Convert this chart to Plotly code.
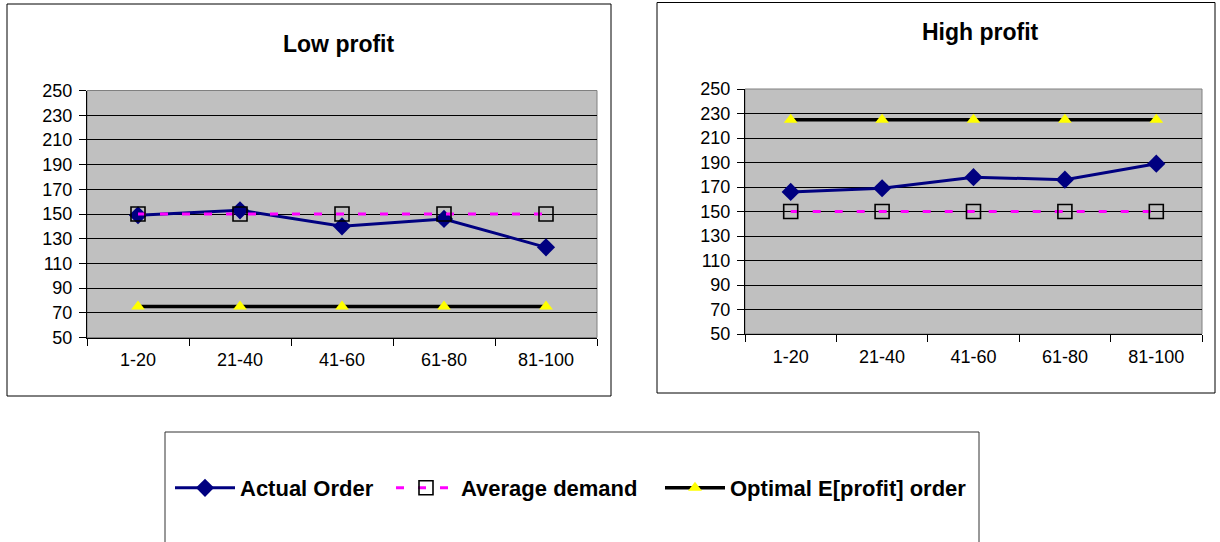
import plotly.graph_objects as go

# ---- data ----
periods = ["1-20", "21-40", "41-60", "61-80", "81-100"]
low_actual = [149, 153, 140, 146, 123]
low_average = [150, 150, 150, 150, 150]
low_optimal = [75, 75, 75, 75, 75]
high_actual = [166, 169, 178, 176, 189]
high_average = [150, 150, 150, 150, 150]
high_optimal = [225, 225, 225, 225, 225]
titles = ["Low profit", "High profit"]
series_names = ["Actual Order", "Average demand", "Optimal E[profit] order"]
y_ticks = list(range(50, 251, 20))

W, H = 1220, 542
FONT = "Liberation Sans, Arial, sans-serif"

def px(x):
    return x / W

def py(y):
    return 1 - y / H

fig = go.Figure()

def add_series(xa, ya, actual, average, optimal, show):
    fig.add_trace(go.Scatter(
        x=periods, y=actual, name=series_names[0], xaxis=xa, yaxis=ya,
        mode="lines+markers", line=dict(color="#000080", width=3),
        marker=dict(symbol="diamond", size=14, color="#000080"),
        showlegend=show, legend="legend"))
    fig.add_trace(go.Scatter(
        x=periods, y=average, name=series_names[1], xaxis=xa, yaxis=ya,
        mode="lines+markers", line=dict(color="#FF00FF", width=3, dash="8px,14px"),
        marker=dict(symbol="square-open", size=14, color="#000000", line=dict(width=1.6, color="#000000")),
        showlegend=show, legend="legend2"))
    fig.add_trace(go.Scatter(
        x=periods, y=optimal, name=series_names[2], xaxis=xa, yaxis=ya,
        mode="lines+markers", line=dict(color="#000000", width=3.5),
        marker=dict(symbol="triangle-up", size=12, color="#FFFF00"),
        showlegend=show, legend="legend3"))

add_series("x", "y", low_actual, low_average, low_optimal, True)
add_series("x2", "y2", high_actual, high_average, high_optimal, False)

plots = [
    dict(x0=87, x1=597, y0=90.5, y1=337.5),
    dict(x0=745, x1=1202, y0=89, y1=334),
]

def xaxis_cfg(p, anchor):
    return dict(
        domain=[px(p["x0"]), px(p["x1"])], anchor=anchor,
        type="category", range=[-0.5, 4.5], tickson="boundaries",
        ticks="outside", ticklen=7, tickcolor="#000000", tickwidth=1,
        showline=True, linecolor="#000000", linewidth=1,
        showgrid=False, zeroline=False, ticklabelstandoff=6,
        tickfont=dict(family=FONT, size=18, color="#000000"),
        fixedrange=True)

def yaxis_cfg(p, anchor):
    return dict(
        domain=[py(p["y1"]), py(p["y0"])], anchor=anchor,
        range=[50, 250], tickvals=y_ticks,
        ticks="outside", ticklen=7, tickcolor="#000000", tickwidth=1,
        showline=True, linecolor="#000000", linewidth=1,
        showgrid=True, gridcolor="#000000", gridwidth=1, zeroline=False,
        ticklabelstandoff=3,
        tickfont=dict(family=FONT, size=18, color="#000000"),
        fixedrange=True)

legend_common = dict(orientation="h", yanchor="middle", xanchor="left",
                     bgcolor="rgba(0,0,0,0)", borderwidth=0, itemwidth=60,
                     font=dict(family=FONT, size=22, color="#000000", weight="bold"))

fig.update_layout(
    width=W, height=H,
    margin=dict(l=0, r=0, t=0, b=0, autoexpand=False),
    paper_bgcolor="#FFFFFF",
    plot_bgcolor="#C0C0C0",
    xaxis=xaxis_cfg(plots[0], "y"),
    yaxis=yaxis_cfg(plots[0], "x"),
    xaxis2=xaxis_cfg(plots[1], "y2"),
    yaxis2=yaxis_cfg(plots[1], "x2"),
    legend=dict(x=px(170), y=py(488), **legend_common),
    legend2=dict(x=px(391), y=py(488), **legend_common),
    legend3=dict(x=px(660), y=py(488), **legend_common),
    showlegend=True,
)

shapes = []
# chart frames
shapes.append(dict(type="rect", xref="paper", yref="paper",
                   x0=px(7), x1=px(611), y0=py(396), y1=py(4),
                   line=dict(color="#000000", width=1)))
shapes.append(dict(type="rect", xref="paper", yref="paper",
                   x0=px(657), x1=px(1215), y0=py(393), y1=py(2.5),
                   line=dict(color="#000000", width=1)))
# legend frame
shapes.append(dict(type="rect", xref="paper", yref="paper",
                   x0=px(165), x1=px(979), y0=py(600), y1=py(432),
                   line=dict(color="#333333", width=1)))
# plot-area borders
for p in plots:
    shapes.append(dict(type="rect", xref="paper", yref="paper", layer="below",
                       x0=px(p["x0"]), x1=px(p["x1"]), y0=py(p["y1"]), y1=py(p["y0"]),
                       line=dict(color="#808080", width=1)))
fig.update_layout(shapes=shapes)

fig.add_annotation(text="<b>" + titles[0] + "</b>", xref="paper", yref="paper",
                   x=px(338), y=py(44), showarrow=False, xanchor="center", yanchor="middle",
                   font=dict(family=FONT, size=23, color="#000000"))
fig.add_annotation(text="<b>" + titles[1] + "</b>", xref="paper", yref="paper",
                   x=px(980), y=py(32), showarrow=False, xanchor="center", yanchor="middle",
                   font=dict(family=FONT, size=23, color="#000000"))

fig.write_html("out.html")
